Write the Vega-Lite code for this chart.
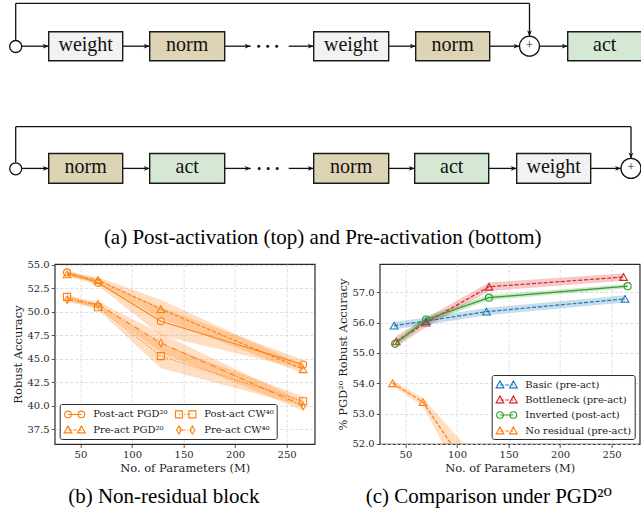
{
  "$schema": "https://vega.github.io/schema/vega-lite/v6.json",
  "padding": {"left": 6.7, "top": 0, "right": 0, "bottom": 0},
  "background": "white",
  "spacing": 4,
  "resolve": {"scale": {"fill": "independent", "size": "independent"}},
  "config": {
    "view": {"stroke": "#2b2b2b", "strokeWidth": 1.2},
    "axis": {
      "labelFont": "DejaVu Serif", "labelFontSize": 10, "labelColor": "#1f1f1f",
      "titleFont": "DejaVu Serif", "titleFontSize": 11.5, "titleFontWeight": "normal", "titleColor": "#1f1f1f",
      "domain": false, "tickColor": "#2b2b2b", "tickSize": 3.5, "tickWidth": 0.8, "labelPadding": 2,
      "gridColor": "#d6d6d6", "gridDash": [3, 2], "gridWidth": 0.8, "titlePadding": 3
    },
    "legend": {
      "title": null, "padding": 2.5, "offset": 5, "rowPadding": 2, "columnPadding": 0, "labelOffset": 11,
      "symbolOffset": 5, "symbolSize": 169, "symbolStrokeWidth": 1.1, "labelFont": "DejaVu Serif", "labelFontSize": 10,
      "labelColor": "#1a1a1a", "strokeColor": "#2b2b2b", "fillColor": "rgba(255,255,255,0.85)",
      "cornerRadius": 2, "labelLimit": 300
    },
    "title": {"font": "Liberation Serif, DejaVu Serif", "fontSize": 21, "fontWeight": "normal", "color": "#000000"}
  },
  "datasets": {
    "boxes": [
      {"label": "weight", "kind": "weight", "x1": 47, "x2": 121, "y1": 31.7, "y2": 60.7, "cx": 84, "cy": 46.2},
      {"label": "norm", "kind": "norm", "x1": 148, "x2": 223, "y1": 31.7, "y2": 60.7, "cx": 185.5, "cy": 46.2},
      {"label": "weight", "kind": "weight", "x1": 312, "x2": 387, "y1": 31.7, "y2": 60.7, "cx": 349.5, "cy": 46.2},
      {"label": "norm", "kind": "norm", "x1": 414, "x2": 488, "y1": 31.7, "y2": 60.7, "cx": 451, "cy": 46.2},
      {"label": "act", "kind": "act", "x1": 566, "x2": 640, "y1": 31.7, "y2": 60.7, "cx": 603, "cy": 46.2},
      {"label": "norm", "kind": "norm", "x1": 47, "x2": 121, "y1": 153.5, "y2": 183.3, "cx": 84, "cy": 168.4},
      {"label": "act", "kind": "act", "x1": 148, "x2": 223, "y1": 153.5, "y2": 183.3, "cx": 185.5, "cy": 168.4},
      {"label": "norm", "kind": "norm", "x1": 312, "x2": 387, "y1": 153.5, "y2": 183.3, "cx": 349.5, "cy": 168.4},
      {"label": "act", "kind": "act", "x1": 413, "x2": 487, "y1": 153.5, "y2": 183.3, "cx": 450, "cy": 168.4},
      {"label": "weight", "kind": "weight", "x1": 515, "x2": 589, "y1": 153.5, "y2": 183.3, "cx": 552, "cy": 168.4}
    ],
    "segments": [
      {"x1": 20, "y1": 46.2, "x2": 47, "y2": 46.2, "head": "right"},
      {"x1": 121, "y1": 46.2, "x2": 148, "y2": 46.2, "head": "right"},
      {"x1": 223, "y1": 46.2, "x2": 249, "y2": 46.2, "head": "right"},
      {"x1": 287, "y1": 46.2, "x2": 312, "y2": 46.2, "head": "right"},
      {"x1": 387, "y1": 46.2, "x2": 414, "y2": 46.2, "head": "right"},
      {"x1": 488, "y1": 46.2, "x2": 517.8, "y2": 46.2, "head": "right"},
      {"x1": 537.8, "y1": 46.2, "x2": 566, "y2": 46.2, "head": "right"},
      {"x1": 14, "y1": 40.5, "x2": 14, "y2": 3.3, "head": "none"},
      {"x1": 14, "y1": 3.3, "x2": 527.8, "y2": 3.3, "head": "none"},
      {"x1": 527.8, "y1": 3.3, "x2": 527.8, "y2": 36.2, "head": "down"},
      {"x1": 20, "y1": 168.4, "x2": 47, "y2": 168.4, "head": "right"},
      {"x1": 121, "y1": 168.4, "x2": 148, "y2": 168.4, "head": "right"},
      {"x1": 223, "y1": 168.4, "x2": 249, "y2": 168.4, "head": "right"},
      {"x1": 287, "y1": 168.4, "x2": 312, "y2": 168.4, "head": "right"},
      {"x1": 387, "y1": 168.4, "x2": 413, "y2": 168.4, "head": "right"},
      {"x1": 487, "y1": 168.4, "x2": 515, "y2": 168.4, "head": "right"},
      {"x1": 589, "y1": 168.4, "x2": 619.3, "y2": 168.4, "head": "right"},
      {"x1": 14, "y1": 162.5, "x2": 14, "y2": 126.7, "head": "none"},
      {"x1": 14, "y1": 126.7, "x2": 629.3, "y2": 126.7, "head": "none"},
      {"x1": 629.3, "y1": 126.7, "x2": 629.3, "y2": 158.4, "head": "down"}
    ],
    "circles": [
      {"x": 14, "y": 46.5, "kind": "start"},
      {"x": 527.8, "y": 46.2, "kind": "plus"},
      {"x": 14, "y": 168.8, "kind": "start"},
      {"x": 629.3, "y": 168.4, "kind": "plus"}
    ],
    "dots": [
      {"x": 257, "y": 46.2}, {"x": 266, "y": 46.2}, {"x": 275, "y": 46.2},
      {"x": 257.5, "y": 168.4}, {"x": 266.5, "y": 168.4}, {"x": 275.5, "y": 168.4}
    ],
    "captions": [
      {"text": "(a) Post-activation (top) and Pre-activation (bottom)", "x": 321, "y": 238}
    ],
    "b": [
      {"series": "Post-act PGD²⁰", "params": 37, "acc": 54.2, "lo": 53.9, "hi": 54.5},
      {"series": "Post-act PGD²⁰", "params": 67, "acc": 53.1, "lo": 52.8, "hi": 53.4},
      {"series": "Post-act PGD²⁰", "params": 128, "acc": 49.0, "lo": 47.5, "hi": 50.5},
      {"series": "Post-act PGD²⁰", "params": 266, "acc": 44.4, "lo": 43.9, "hi": 44.9},
      {"series": "Pre-act PGD²⁰", "params": 37, "acc": 54.0, "lo": 53.75, "hi": 54.25},
      {"series": "Pre-act PGD²⁰", "params": 67, "acc": 53.4, "lo": 53.1, "hi": 53.7},
      {"series": "Pre-act PGD²⁰", "params": 128, "acc": 50.3, "lo": 49.3, "hi": 51.3},
      {"series": "Pre-act PGD²⁰", "params": 266, "acc": 43.9, "lo": 43.45, "hi": 44.35},
      {"series": "Post-act CW⁴⁰", "params": 37, "acc": 51.6, "lo": 51.3, "hi": 51.9},
      {"series": "Post-act CW⁴⁰", "params": 67, "acc": 50.5, "lo": 50.2, "hi": 50.8},
      {"series": "Post-act CW⁴⁰", "params": 128, "acc": 45.3, "lo": 44.0, "hi": 46.6},
      {"series": "Post-act CW⁴⁰", "params": 266, "acc": 40.5, "lo": 40.0, "hi": 41.0},
      {"series": "Pre-act CW⁴⁰", "params": 37, "acc": 51.3, "lo": 51.0, "hi": 51.6},
      {"series": "Pre-act CW⁴⁰", "params": 67, "acc": 50.8, "lo": 50.5, "hi": 51.1},
      {"series": "Pre-act CW⁴⁰", "params": 128, "acc": 46.7, "lo": 45.7, "hi": 47.7},
      {"series": "Pre-act CW⁴⁰", "params": 266, "acc": 40.0, "lo": 39.5, "hi": 40.5}
    ],
    "c": [
      {"series": "Basic (pre-act)", "params": 39, "acc": 55.9, "lo": 55.78, "hi": 56.02},
      {"series": "Basic (pre-act)", "params": 70, "acc": 56.05, "lo": 55.93, "hi": 56.17},
      {"series": "Basic (pre-act)", "params": 128.6, "acc": 56.36, "lo": 56.24, "hi": 56.48},
      {"series": "Basic (pre-act)", "params": 263, "acc": 56.78, "lo": 56.66, "hi": 56.9},
      {"series": "Bottleneck (pre-act)", "params": 41, "acc": 55.38, "lo": 55.2, "hi": 55.56},
      {"series": "Bottleneck (pre-act)", "params": 70, "acc": 56.0, "lo": 55.85, "hi": 56.15},
      {"series": "Bottleneck (pre-act)", "params": 131, "acc": 57.18, "lo": 57.04, "hi": 57.32},
      {"series": "Bottleneck (pre-act)", "params": 261.5, "acc": 57.5, "lo": 57.38, "hi": 57.62},
      {"series": "Inverted (post-act)", "params": 40, "acc": 55.3, "lo": 55.2, "hi": 55.4},
      {"series": "Inverted (post-act)", "params": 70, "acc": 56.1, "lo": 55.98, "hi": 56.22},
      {"series": "Inverted (post-act)", "params": 131, "acc": 56.82, "lo": 56.74, "hi": 56.9},
      {"series": "Inverted (post-act)", "params": 265.5, "acc": 57.2, "lo": 57.13, "hi": 57.27},
      {"series": "No residual (pre-act)", "params": 37.5, "acc": 54.0, "lo": 53.9, "hi": 54.1},
      {"series": "No residual (pre-act)", "params": 67, "acc": 53.38, "lo": 53.25, "hi": 53.51},
      {"series": "No residual (pre-act)", "params": 128, "acc": 50.3, "lo": 49.3, "hi": 51.2},
      {"series": "No residual (pre-act)", "params": 266, "acc": 43.9, "lo": 43.45, "hi": 44.35}
    ]
  },
  "vconcat": [
    {
      "width": 588,
      "height": 255,
      "view": {"stroke": null},
      "layer": [
        {
          "data": {"name": "segments"},
          "mark": {"type": "rule", "color": "#111111", "strokeWidth": 1.3},
          "encoding": {
            "x": {"field": "x1", "type": "quantitative", "scale": {"domain": [53, 641], "nice": false, "zero": false}, "axis": null},
            "x2": {"field": "x2"},
            "y": {"field": "y1", "type": "quantitative", "scale": {"domain": [0, 255], "reverse": true, "nice": false, "zero": false}, "axis": null},
            "y2": {"field": "y2"}
          }
        },
        {
          "data": {"name": "boxes"},
          "mark": {"type": "rect", "stroke": "#1a1a1a", "strokeWidth": 1.4},
          "encoding": {
            "x": {"field": "x1", "type": "quantitative"},
            "x2": {"field": "x2"},
            "y": {"field": "y1", "type": "quantitative"},
            "y2": {"field": "y2"},
            "fill": {"field": "kind", "type": "nominal", "scale": {"domain": ["weight", "norm", "act"], "range": ["#f2f2f2", "#ddd3b5", "#d5e8d4"]}, "legend": null}
          }
        },
        {
          "data": {"name": "boxes"},
          "mark": {"type": "text", "font": "Liberation Serif", "fontSize": 20, "color": "#111111", "baseline": "middle", "align": "center", "dy": -1},
          "encoding": {
            "x": {"field": "cx", "type": "quantitative"},
            "y": {"field": "cy", "type": "quantitative"},
            "text": {"field": "label"}
          }
        },
        {
          "data": {"name": "segments"},
          "transform": [{"filter": "datum.head == 'right'"}],
          "mark": {"type": "point", "shape": "M0,0L-2,-0.8L-1.4,0L-2,0.8Z", "filled": true, "color": "#111111", "size": 36, "opacity": 1, "strokeWidth": 0},
          "encoding": {
            "x": {"field": "x2", "type": "quantitative"},
            "y": {"field": "y2", "type": "quantitative"}
          }
        },
        {
          "data": {"name": "segments"},
          "transform": [{"filter": "datum.head == 'down'"}],
          "mark": {"type": "point", "shape": "M0,0L-0.8,-2L0,-1.4L0.8,-2Z", "filled": true, "color": "#111111", "size": 36, "opacity": 1, "strokeWidth": 0},
          "encoding": {
            "x": {"field": "x2", "type": "quantitative"},
            "y": {"field": "y2", "type": "quantitative"}
          }
        },
        {
          "data": {"name": "circles"},
          "mark": {"type": "point", "shape": "circle", "filled": true, "fill": "white", "stroke": "#111111", "strokeWidth": 1.3, "opacity": 1},
          "encoding": {
            "x": {"field": "x", "type": "quantitative"},
            "y": {"field": "y", "type": "quantitative"},
            "size": {"field": "kind", "type": "ordinal", "scale": {"domain": ["start", "plus"], "range": [144, 400]}, "legend": null}
          }
        },
        {
          "data": {"name": "circles"},
          "transform": [{"filter": "datum.kind == 'plus'"}],
          "mark": {"type": "text", "text": "+", "font": "Liberation Serif", "fontSize": 13, "color": "#111111", "baseline": "middle", "align": "center", "dy": -1},
          "encoding": {
            "x": {"field": "x", "type": "quantitative"},
            "y": {"field": "y", "type": "quantitative"}
          }
        },
        {
          "data": {"name": "dots"},
          "mark": {"type": "point", "shape": "circle", "filled": true, "color": "#111111", "size": 9, "opacity": 1},
          "encoding": {
            "x": {"field": "x", "type": "quantitative"},
            "y": {"field": "y", "type": "quantitative"}
          }
        },
        {
          "data": {"name": "captions"},
          "mark": {"type": "text", "font": "Liberation Serif", "fontSize": 21, "color": "#000000", "baseline": "middle", "align": "center"},
          "encoding": {
            "x": {"field": "x", "type": "quantitative"},
            "y": {"field": "y", "type": "quantitative"},
            "text": {"field": "text"}
          }
        }
      ]
    },
    {
      "spacing": 21,
      "resolve": {"legend": {"color": "independent", "shape": "independent"}},
      "hconcat": [
        {
          "width": 260,
          "height": 180,
          "data": {"name": "b"},
          "title": {"text": "(b) Non-residual block", "orient": "bottom", "frame": "bounds", "anchor": "middle", "offset": 12},
          "encoding": {
            "x": {"field": "params", "type": "quantitative", "scale": {"domain": [25, 277.2], "nice": false, "zero": false}, "axis": {"values": [50, 100, 150, 200, 250], "title": "No. of Parameters (M)"}},
            "y": {"field": "acc", "type": "quantitative", "scale": {"domain": [35.95, 55.1], "nice": false, "zero": false}, "axis": {"values": [37.5, 40, 42.5, 45, 47.5, 50, 52.5, 55], "format": ".1f", "title": "Robust Accuracy"}}
          },
          "layer": [
            {
              "mark": {"type": "area", "color": "#ff7f0e", "opacity": 0.25},
              "encoding": {
                "y": {"field": "lo", "type": "quantitative", "scale": {"domain": [35.95, 55.1], "nice": false, "zero": false}, "axis": {"values": [37.5, 40, 42.5, 45, 47.5, 50, 52.5, 55], "format": ".1f", "title": "Robust Accuracy"}},
                "y2": {"field": "hi"},
                "detail": {"field": "series", "type": "nominal"}
              }
            },
            {
              "transform": [{"filter": "datum.series == 'Post-act PGD²⁰'"}],
              "mark": {"type": "line", "color": "#ff7f0e", "strokeWidth": 1.1}
            },
            {
              "transform": [{"filter": "datum.series == 'Pre-act PGD²⁰'"}],
              "mark": {"type": "line", "color": "#ff7f0e", "strokeWidth": 1.1, "strokeDash": [4, 1.8]}
            },
            {
              "transform": [{"filter": "datum.series == 'Post-act CW⁴⁰'"}],
              "mark": {"type": "line", "color": "#ff7f0e", "strokeWidth": 1.1, "strokeDash": [1, 1.7]}
            },
            {
              "transform": [{"filter": "datum.series == 'Pre-act CW⁴⁰'"}],
              "mark": {"type": "line", "color": "#ff7f0e", "strokeWidth": 1.1, "strokeDash": [6, 1.8, 1, 1.8]}
            },
            {
              "transform": [{"filter": "datum.series == 'Post-act PGD²⁰'"}],
              "mark": {"type": "point", "shape": "circle", "filled": false, "color": "#ff7f0e", "size": 50, "strokeWidth": 1.1, "opacity": 1}
            },
            {
              "transform": [{"filter": "datum.series == 'Pre-act PGD²⁰'"}],
              "mark": {"type": "point", "shape": "triangle-up", "filled": false, "color": "#ff7f0e", "size": 60, "strokeWidth": 1.1, "opacity": 1}
            },
            {
              "transform": [{"filter": "datum.series == 'Post-act CW⁴⁰'"}],
              "mark": {"type": "point", "shape": "square", "filled": false, "color": "#ff7f0e", "size": 50, "strokeWidth": 1.1, "opacity": 1}
            },
            {
              "transform": [{"filter": "datum.series == 'Pre-act CW⁴⁰'"}],
              "mark": {"type": "point", "shape": "M0,-1L0.6,0L0,1L-0.6,0Z", "filled": false, "color": "#ff7f0e", "size": 56, "strokeWidth": 1.1, "opacity": 1}
            },
            {
              "transform": [{"filter": "false"}],
              "mark": {"type": "point", "filled": false, "color": "#ff7f0e", "strokeWidth": 1.1, "opacity": 1},
              "encoding": {
                "shape": {
                  "field": "series", "type": "nominal",
                  "scale": {
                    "domain": ["Post-act PGD²⁰", "Post-act CW⁴⁰", "Pre-act PGD²⁰", "Pre-act CW⁴⁰", "Basic (pre-act)", "Bottleneck (pre-act)", "Inverted (post-act)", "No residual (pre-act)"],
                    "range": [
                      "M-1.03,0L1.03,0M-0.52,0A0.51,0.51,0,1,1,-1.54,0A0.51,0.51,0,1,1,-0.52,0M1.54,0A0.51,0.51,0,1,1,0.52,0A0.51,0.51,0,1,1,1.54,0",
                      "M-1.03,0L-0.88,0M-0.63,0L-0.48,0M-0.23,0L-0.08,0M0.17,0L0.32,0M0.57,0L0.72,0M0.97,0L1.03,0M-1.57,-0.54L-0.49,-0.54L-0.49,0.54L-1.57,0.54ZM0.49,-0.54L1.57,-0.54L1.57,0.54L0.49,0.54Z",
                      "M-1.03,0L-0.46,0M-0.22,0L0.35,0M0.6,0L1.03,0M-1.03,-0.62L-0.43,0.45L-1.63,0.45ZM1.03,-0.62L1.63,0.45L0.43,0.45Z",
                      "M-1.03,0L-0.05,0M0.2,0L0.35,0M0.6,0L1.03,0M-1.03,-0.62L-0.65,0L-1.03,0.62L-1.41,0ZM1.03,-0.62L1.41,0L1.03,0.62L0.65,0Z",
                      "M-1.03,0L-0.46,0M-0.22,0L0.35,0M0.6,0L1.03,0M-1.03,-0.62L-0.43,0.45L-1.63,0.45ZM1.03,-0.62L1.63,0.45L0.43,0.45Z",
                      "M-1.03,0L-0.46,0M-0.22,0L0.35,0M0.6,0L1.03,0M-1.03,-0.62L-0.43,0.45L-1.63,0.45ZM1.03,-0.62L1.63,0.45L0.43,0.45Z",
                      "M-1.03,0L1.03,0M-0.52,0A0.51,0.51,0,1,1,-1.54,0A0.51,0.51,0,1,1,-0.52,0M1.54,0A0.51,0.51,0,1,1,0.52,0A0.51,0.51,0,1,1,1.54,0",
                      "M-1.03,0L-0.46,0M-0.22,0L0.35,0M0.6,0L1.03,0M-1.03,-0.62L-0.43,0.45L-1.63,0.45ZM1.03,-0.62L1.63,0.45L0.43,0.45Z"
                    ]
                  },
                  "legend": {"orient": "bottom-left", "columns": 2, "columnPadding": 5, "values": ["Post-act PGD²⁰", "Pre-act PGD²⁰", "Post-act CW⁴⁰", "Pre-act CW⁴⁰"]}
                }
              }
            }
          ]
        },
        {
          "width": 260,
          "height": 180,
          "data": {"name": "c"},
          "title": {"text": "(c) Comparison under PGD²⁰", "orient": "bottom", "frame": "bounds", "anchor": "middle", "offset": 12},
          "encoding": {
            "x": {"field": "params", "type": "quantitative", "scale": {"domain": [25, 277.2], "nice": false, "zero": false}, "axis": {"values": [50, 100, 150, 200, 250], "title": "No. of Parameters (M)"}},
            "y": {"field": "acc", "type": "quantitative", "scale": {"domain": [52.0, 57.93], "nice": false, "zero": false}, "axis": {"values": [52, 53, 54, 55, 56, 57], "format": ".1f", "title": "% PGD²⁰ Robust Accuracy"}}
          },
          "layer": [
            {
              "mark": {"type": "area", "opacity": 0.25, "clip": true},
              "encoding": {
                "y": {"field": "lo", "type": "quantitative", "scale": {"domain": [52.0, 57.93], "nice": false, "zero": false}, "axis": {"values": [52, 53, 54, 55, 56, 57], "format": ".1f", "title": "% PGD²⁰ Robust Accuracy"}},
                "y2": {"field": "hi"},
                "fill": {"field": "series", "type": "nominal", "scale": {"domain": ["Basic (pre-act)", "Bottleneck (pre-act)", "Inverted (post-act)", "No residual (pre-act)"], "range": ["#1f77b4", "#d62728", "#2ca02c", "#ff7f0e"]}, "legend": null}
              }
            },
            {
              "transform": [{"filter": "datum.series != 'Inverted (post-act)'"}],
              "mark": {"type": "line", "strokeWidth": 1.2, "clip": true, "strokeDash": [4, 1.8]},
              "encoding": {
                "stroke": {"field": "series", "type": "nominal", "scale": {"domain": ["Basic (pre-act)", "Bottleneck (pre-act)", "Inverted (post-act)", "No residual (pre-act)"], "range": ["#1f77b4", "#d62728", "#2ca02c", "#ff7f0e"]}, "legend": null}
              }
            },
            {
              "transform": [{"filter": "datum.series == 'Inverted (post-act)'"}],
              "mark": {"type": "line", "strokeWidth": 1.2, "clip": true},
              "encoding": {
                "stroke": {"field": "series", "type": "nominal", "scale": {"domain": ["Basic (pre-act)", "Bottleneck (pre-act)", "Inverted (post-act)", "No residual (pre-act)"], "range": ["#1f77b4", "#d62728", "#2ca02c", "#ff7f0e"]}, "legend": null}
              }
            },
            {
              "transform": [{"filter": "datum.series != 'Inverted (post-act)'"}],
              "mark": {"type": "point", "shape": "triangle-up", "filled": false, "size": 60, "strokeWidth": 1.1, "opacity": 1, "clip": true},
              "encoding": {
                "stroke": {"field": "series", "type": "nominal", "scale": {"domain": ["Basic (pre-act)", "Bottleneck (pre-act)", "Inverted (post-act)", "No residual (pre-act)"], "range": ["#1f77b4", "#d62728", "#2ca02c", "#ff7f0e"]}, "legend": null}
              }
            },
            {
              "transform": [{"filter": "datum.series == 'Inverted (post-act)'"}],
              "mark": {"type": "point", "shape": "circle", "filled": false, "size": 50, "strokeWidth": 1.1, "opacity": 1, "clip": true},
              "encoding": {
                "stroke": {"field": "series", "type": "nominal", "scale": {"domain": ["Basic (pre-act)", "Bottleneck (pre-act)", "Inverted (post-act)", "No residual (pre-act)"], "range": ["#1f77b4", "#d62728", "#2ca02c", "#ff7f0e"]}, "legend": null}
              }
            },
            {
              "transform": [{"filter": "false"}],
              "mark": {"type": "point", "filled": false, "strokeWidth": 1.1, "opacity": 1},
              "encoding": {
                "color": {
                  "field": "series", "type": "nominal",
                  "scale": {"domain": ["Post-act PGD²⁰", "Post-act CW⁴⁰", "Pre-act PGD²⁰", "Pre-act CW⁴⁰", "Basic (pre-act)", "Bottleneck (pre-act)", "Inverted (post-act)", "No residual (pre-act)"], "range": ["#ff7f0e", "#ff7f0e", "#ff7f0e", "#ff7f0e", "#1f77b4", "#d62728", "#2ca02c", "#ff7f0e"]},
                  "legend": {"orient": "bottom-right", "columns": 1, "values": ["Basic (pre-act)", "Bottleneck (pre-act)", "Inverted (post-act)", "No residual (pre-act)"]}
                },
                "shape": {
                  "field": "series", "type": "nominal",
                  "scale": {
                    "domain": ["Post-act PGD²⁰", "Post-act CW⁴⁰", "Pre-act PGD²⁰", "Pre-act CW⁴⁰", "Basic (pre-act)", "Bottleneck (pre-act)", "Inverted (post-act)", "No residual (pre-act)"],
                    "range": [
                      "M-1.03,0L1.03,0M-0.52,0A0.51,0.51,0,1,1,-1.54,0A0.51,0.51,0,1,1,-0.52,0M1.54,0A0.51,0.51,0,1,1,0.52,0A0.51,0.51,0,1,1,1.54,0",
                      "M-1.03,0L-0.88,0M-0.63,0L-0.48,0M-0.23,0L-0.08,0M0.17,0L0.32,0M0.57,0L0.72,0M0.97,0L1.03,0M-1.57,-0.54L-0.49,-0.54L-0.49,0.54L-1.57,0.54ZM0.49,-0.54L1.57,-0.54L1.57,0.54L0.49,0.54Z",
                      "M-1.03,0L-0.46,0M-0.22,0L0.35,0M0.6,0L1.03,0M-1.03,-0.62L-0.43,0.45L-1.63,0.45ZM1.03,-0.62L1.63,0.45L0.43,0.45Z",
                      "M-1.03,0L-0.05,0M0.2,0L0.35,0M0.6,0L1.03,0M-1.03,-0.62L-0.65,0L-1.03,0.62L-1.41,0ZM1.03,-0.62L1.41,0L1.03,0.62L0.65,0Z",
                      "M-1.03,0L-0.46,0M-0.22,0L0.35,0M0.6,0L1.03,0M-1.03,-0.62L-0.43,0.45L-1.63,0.45ZM1.03,-0.62L1.63,0.45L0.43,0.45Z",
                      "M-1.03,0L-0.46,0M-0.22,0L0.35,0M0.6,0L1.03,0M-1.03,-0.62L-0.43,0.45L-1.63,0.45ZM1.03,-0.62L1.63,0.45L0.43,0.45Z",
                      "M-1.03,0L1.03,0M-0.52,0A0.51,0.51,0,1,1,-1.54,0A0.51,0.51,0,1,1,-0.52,0M1.54,0A0.51,0.51,0,1,1,0.52,0A0.51,0.51,0,1,1,1.54,0",
                      "M-1.03,0L-0.46,0M-0.22,0L0.35,0M0.6,0L1.03,0M-1.03,-0.62L-0.43,0.45L-1.63,0.45ZM1.03,-0.62L1.63,0.45L0.43,0.45Z"
                    ]
                  },
                  "legend": {"orient": "bottom-right", "columns": 1, "values": ["Basic (pre-act)", "Bottleneck (pre-act)", "Inverted (post-act)", "No residual (pre-act)"]}
                }
              }
            }
          ]
        }
      ]
    }
  ]
}
